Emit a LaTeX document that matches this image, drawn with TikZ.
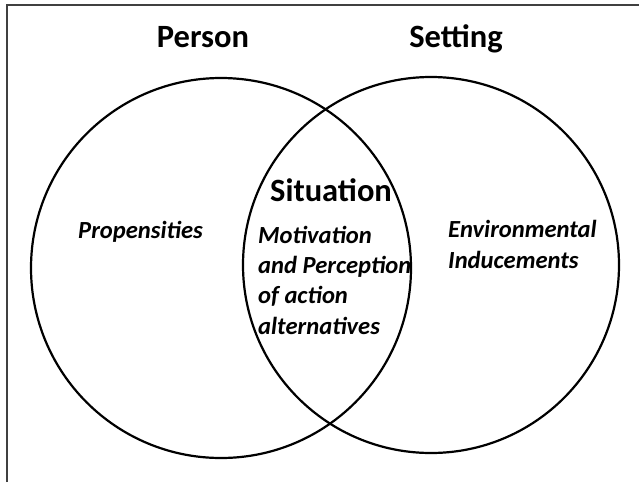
\documentclass[tikz,border=0pt]{standalone}
\usepackage{fontspec}
\setmainfont{Carlito}
\usepackage{tikz}

\tikzset{
  ring/.style={draw=black, line width=2.2pt},
  heading/.style={font=\fontsize{32.5}{38}\selectfont\bfseries, anchor=base},
  label/.style={font=\fontsize{24.6}{30.3}\selectfont\bfseries\itshape, align=left, anchor=base west, inner sep=0pt}
}

\begin{document}
\begin{tikzpicture}[x=1pt, y=-1pt]
        \useasboundingbox (0, 0) rectangle (639, 482);

        % Frame (top and left edges)
        \draw[line width=1.5pt, black!75] (7, 482) -- (7, 5) -- (639, 5);

        % Two circles
        \node[ring, circle, minimum size=380pt, inner sep=0pt] (person) at (221, 268) {};
        \node[ring, circle, minimum size=376pt, inner sep=0pt] (setting) at (431, 265) {};

        % Headings
        \node[heading] (personlabel) at (203, 47) {Person};
        \node[heading] (settinglabel) at (456, 47) {Setting};
        \node[heading] (situation) at (331, 201) {Situation};

        % Texts inside (anchored at the last line)
        \node[label] (propensities) at (78, 238) {Propensities};
        \node[label] (motivation) at (258, 334) {Motivation\\and Perception\\of action\\alternatives};
        \node[label] (inducements) at (448, 268) {Environmental\\Inducements};
    \end{tikzpicture}
\end{document}
